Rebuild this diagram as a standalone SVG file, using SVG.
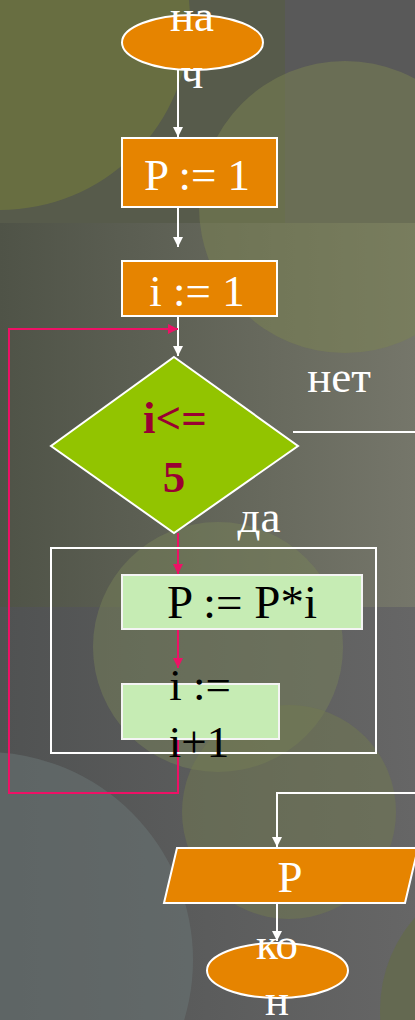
<svg xmlns="http://www.w3.org/2000/svg" width="415" height="1020" viewBox="0 0 415 1020">
<defs>
<linearGradient id="bandg" x1="0" y1="0" x2="1" y2="0">
<stop offset="0" stop-color="#4f5347"/>
<stop offset="1" stop-color="#75766a"/>
</linearGradient>
<linearGradient id="lowg" x1="0" y1="0" x2="1" y2="0">
<stop offset="0" stop-color="#505252"/>
<stop offset="1" stop-color="#666666"/>
</linearGradient>
<marker id="aw" viewBox="0 0 10 10" refX="10" refY="5" markerWidth="10" markerHeight="10" markerUnits="userSpaceOnUse" orient="auto">
<path d="M0,0 L10,5 L0,10 z" fill="#ffffff"/>
</marker>
<marker id="ap" viewBox="0 0 10 10" refX="10" refY="5" markerWidth="10" markerHeight="10" markerUnits="userSpaceOnUse" orient="auto">
<path d="M0,0 L10,5 L0,10 z" fill="#ee1166"/>
</marker>
</defs>
<style>
text{font-family:'Liberation Serif','DejaVu Serif',serif;font-size:45px;text-anchor:middle}
.w{fill:#ffffff}
.k{fill:#000000}
.or{fill:#e68400;stroke:#ffffff;stroke-width:2}
.gr{fill:#c6ecb4;stroke:#f4f4f4;stroke-width:2}
.wl{fill:none;stroke:#ffffff;stroke-width:2}
.pl{fill:none;stroke:#ee1166;stroke-width:2}
</style>
<g id="background">
<rect x="0" y="0" width="415" height="1020" fill="#595959"/>
<rect x="0" y="223" width="415" height="384" fill="url(#bandg)"/>
<rect x="0" y="607" width="415" height="413" fill="url(#lowg)"/>
<rect x="0" y="0" width="285" height="223" fill="#575b4b"/>
<circle cx="0" cy="20" r="190" fill="#6b7240" opacity="0.85"/>
<circle cx="345" cy="207" r="146" fill="#7c8452" opacity="0.5"/>
<circle cx="218" cy="647" r="125" fill="#7a8458" opacity="0.45"/>
<circle cx="289" cy="812" r="107" fill="#727a50" opacity="0.5"/>
<circle cx="-15" cy="960" r="208" fill="#6a7474" opacity="0.55"/>
<circle cx="520" cy="1010" r="140" fill="#646b48" opacity="0.7"/>
</g>
<g id="connectors">
<line class="wl" x1="178" y1="70" x2="178" y2="137" marker-end="url(#aw)"/>
<line class="wl" x1="178" y1="207" x2="178" y2="247" marker-end="url(#aw)"/>
<line class="wl" x1="178" y1="316" x2="178" y2="356" marker-end="url(#aw)"/>
<polyline class="pl" points="178,740 178,793 9,793 9,329 178,329" marker-end="url(#ap)"/>
<line class="pl" x1="178" y1="533" x2="178" y2="574" marker-end="url(#ap)"/>
<line class="pl" x1="178" y1="629" x2="178" y2="668" marker-end="url(#ap)"/>
<polyline class="wl" points="293,432 420,432 420,793 277,793 277,847" marker-end="url(#aw)"/>
<polyline class="wl" points="277,903 277,941" marker-end="url(#aw)"/>
<text class="w" x="339" y="392">нет</text>
<text class="w" x="259" y="532">да</text>
</g>
<g id="start">
<ellipse class="or" cx="192.5" cy="42.5" rx="70.5" ry="27.5"/>
<text class="w" x="192" y="31">на</text>
<text class="w" x="192" y="88">ч</text>
</g>
<g id="p1">
<rect class="or" x="122" y="138" width="155" height="69"/>
<text class="w" x="197" y="190">P := 1</text>
</g>
<g id="i1">
<rect class="or" x="122" y="261" width="155" height="55"/>
<text class="w" x="197" y="306">i := 1</text>
</g>
<g id="cond">
<polygon points="174,357 298,446 174,533 51,446" fill="#92c400" stroke="#ffffff" stroke-width="2"/>
<text x="175" y="433" fill="#990033" font-weight="bold">i&lt;=</text>
<text x="174" y="492" fill="#990033" font-weight="bold">5</text>
</g>
<g id="loopframe">
<rect class="wl" x="51" y="548" width="325" height="205"/>
</g>
<g id="pmul">
<rect class="gr" x="122" y="575" width="240" height="54"/>
<text class="k" x="242" y="618" style="font-size:47px">P := P*i</text>
</g>
<g id="inc">
<rect class="gr" x="122" y="684" width="157" height="55"/>
<text class="k" x="200" y="700">i :=</text>
<text class="k" x="199" y="757">i+1</text>
</g>
<g id="output">
<polygon class="or" points="177,848 418,848 405,903 164,903"/>
<text class="w" x="290" y="892">P</text>
</g>
<g id="end">
<ellipse class="or" cx="277.5" cy="970.5" rx="70.5" ry="27.5"/>
<text class="w" x="277" y="959">ко</text>
<text class="w" x="277" y="1015">н</text>
</g>
</svg>
